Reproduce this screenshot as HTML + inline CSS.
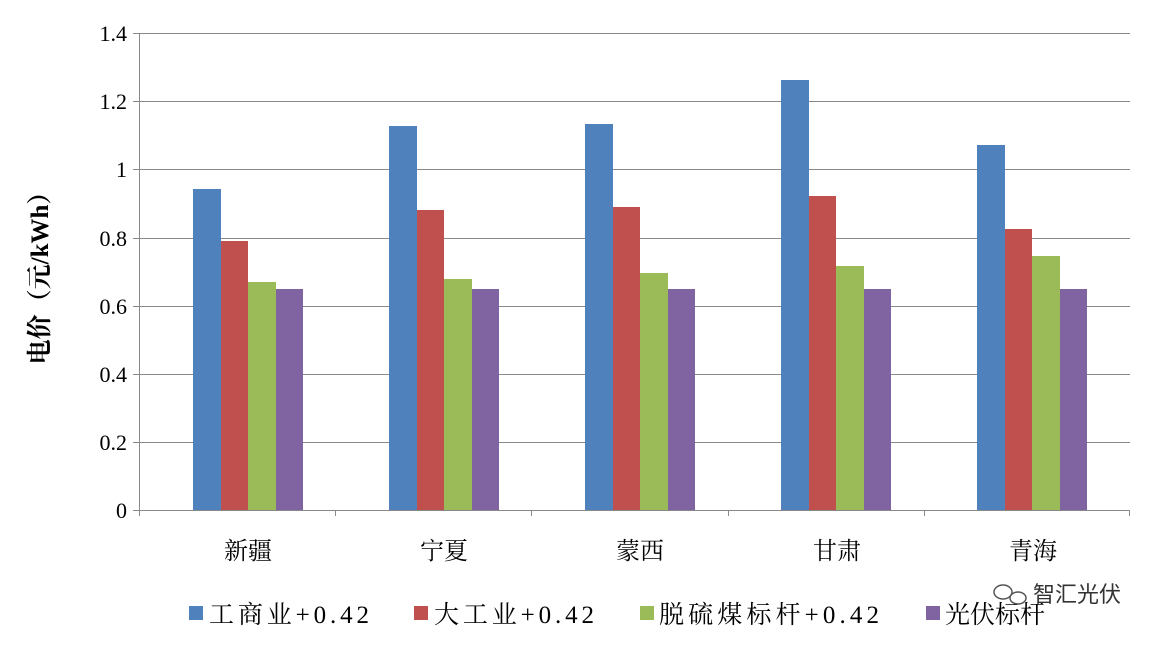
<!DOCTYPE html>
<html><head><meta charset="utf-8"><style>
body{margin:0;background:#fff;}
svg text{font-family:"Liberation Serif","Noto Serif CJK SC",serif;}
</style></head><body>
<svg width="1152" height="645" viewBox="0 0 1152 645" xmlns="http://www.w3.org/2000/svg">
<rect width="1152" height="645" fill="#fff"/>
<g stroke="#898989" stroke-width="1">
<line x1="139" y1="33.5" x2="1130" y2="33.5"/>
<line x1="139" y1="101.5" x2="1130" y2="101.5"/>
<line x1="139" y1="169.5" x2="1130" y2="169.5"/>
<line x1="139" y1="238.5" x2="1130" y2="238.5"/>
<line x1="139" y1="306.5" x2="1130" y2="306.5"/>
<line x1="139" y1="374.5" x2="1130" y2="374.5"/>
<line x1="139" y1="442.5" x2="1130" y2="442.5"/>
<line x1="139" y1="510.5" x2="1130" y2="510.5"/>
<line x1="139.5" y1="33" x2="139.5" y2="516"/>
<line x1="133" y1="33.5" x2="139" y2="33.5"/><line x1="133" y1="101.5" x2="139" y2="101.5"/><line x1="133" y1="169.5" x2="139" y2="169.5"/><line x1="133" y1="238.5" x2="139" y2="238.5"/><line x1="133" y1="306.5" x2="139" y2="306.5"/><line x1="133" y1="374.5" x2="139" y2="374.5"/><line x1="133" y1="442.5" x2="139" y2="442.5"/><line x1="133" y1="510.5" x2="139" y2="510.5"/>
<line x1="335.5" y1="510" x2="335.5" y2="516"/><line x1="531.5" y1="510" x2="531.5" y2="516"/><line x1="728.5" y1="510" x2="728.5" y2="516"/><line x1="924.5" y1="510" x2="924.5" y2="516"/><line x1="1129.5" y1="510" x2="1129.5" y2="516"/>
</g>
<g font-size="22" text-anchor="end" fill="#000">
<text x="127" y="41">1.4</text><text x="127" y="109">1.2</text><text x="127" y="177">1</text><text x="127" y="246">0.8</text><text x="127" y="314">0.6</text><text x="127" y="382">0.4</text><text x="127" y="450">0.2</text><text x="127" y="518">0</text>
</g>
<g>
<rect x="193" y="189" width="28" height="321" fill="#4F81BD"/><rect x="221" y="241" width="27" height="269" fill="#C0504D"/><rect x="248" y="282" width="28" height="228" fill="#9BBB59"/><rect x="276" y="289" width="27" height="221" fill="#8064A2"/>
<rect x="389" y="126" width="28" height="384" fill="#4F81BD"/><rect x="417" y="210" width="27" height="300" fill="#C0504D"/><rect x="444" y="279" width="28" height="231" fill="#9BBB59"/><rect x="472" y="289" width="27" height="221" fill="#8064A2"/>
<rect x="585" y="124" width="28" height="386" fill="#4F81BD"/><rect x="613" y="207" width="27" height="303" fill="#C0504D"/><rect x="640" y="273" width="28" height="237" fill="#9BBB59"/><rect x="668" y="289" width="27" height="221" fill="#8064A2"/>
<rect x="781" y="80" width="28" height="430" fill="#4F81BD"/><rect x="809" y="196" width="27" height="314" fill="#C0504D"/><rect x="836" y="266" width="28" height="244" fill="#9BBB59"/><rect x="864" y="289" width="27" height="221" fill="#8064A2"/>
<rect x="977" y="145" width="28" height="365" fill="#4F81BD"/><rect x="1005" y="229" width="27" height="281" fill="#C0504D"/><rect x="1032" y="256" width="28" height="254" fill="#9BBB59"/><rect x="1060" y="289" width="27" height="221" fill="#8064A2"/>
</g>
<g font-size="24" text-anchor="middle" fill="#000" style="font-family:'Noto Sans CJK SC',sans-serif">
<text x="248" y="559">新疆</text><text x="444" y="559">宁夏</text><text x="640" y="559">蒙西</text><text x="837" y="559">甘肃</text><text x="1033" y="559">青海</text>
</g>
<text transform="translate(48,272) rotate(-90)" text-anchor="middle" font-size="25" font-weight="bold" fill="#000">电价（元/kWh）</text>
<g font-size="25" fill="#000" style="font-family:'Liberation Sans','Noto Sans CJK SC',sans-serif">
<rect x="189" y="606" width="14" height="14" fill="#4F81BD"/><text x="209" y="623" textLength="160">工商业+0.42</text>
<rect x="414" y="606" width="14" height="14" fill="#C0504D"/><text x="434" y="623" textLength="160">大工业+0.42</text>
<rect x="640" y="606" width="14" height="14" fill="#9BBB59"/><text x="659" y="623" textLength="220">脱硫煤标杆+0.42</text>
<rect x="926" y="606" width="14" height="14" fill="#8064A2"/><text x="945" y="623">光伏标杆</text>
</g>
<g fill="none" stroke="#555" stroke-width="1.5"><ellipse cx="1003" cy="592" rx="9" ry="7"/><ellipse cx="1018" cy="598" rx="8" ry="6"/></g>
<text x="1033" y="602" font-size="22" fill="#333" style="font-family:'Noto Sans CJK SC',sans-serif">智汇光伏</text>
</svg>
</body></html>
